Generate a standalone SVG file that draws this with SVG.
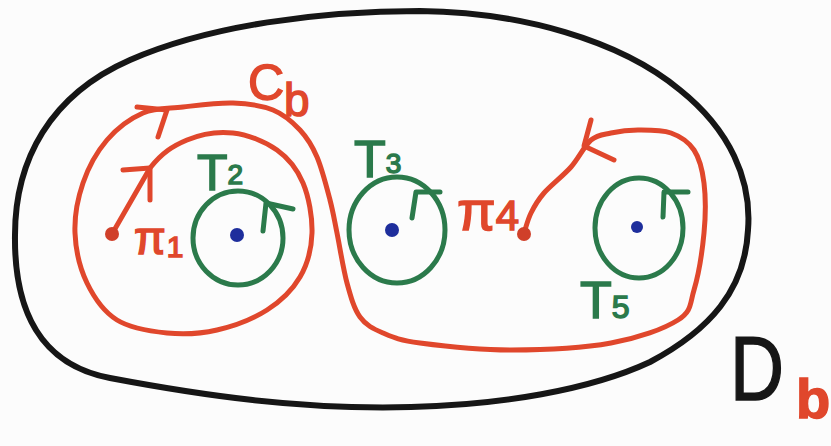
<svg xmlns="http://www.w3.org/2000/svg" width="831" height="446" viewBox="0 0 831 446">
<style>
.red{fill:none;stroke:#e0472c;stroke-width:5;stroke-linecap:round;stroke-linejoin:round}
.grn{fill:none;stroke:#2b7a4b;stroke-width:5;stroke-linecap:round;stroke-linejoin:round}
.blk{fill:none;stroke:#161616;stroke-width:6;stroke-linecap:round;stroke-linejoin:round}
.dot{fill:#1e2e9c}
.rdot{fill:#d0402a}
.tr{font-family:"Liberation Sans",Arial,sans-serif;fill:#e0472c;stroke:#e0472c;stroke-width:1.5}
.tg{font-family:"Liberation Sans",Arial,sans-serif;fill:#2b7a4b;stroke:#2b7a4b;stroke-width:1.5}
.tb{font-family:"Liberation Sans",Arial,sans-serif;fill:#161616;stroke:#161616;stroke-width:1.5}
</style>
<rect width="831" height="446" fill="#fcfcfc"/>
<g id="Db">
<path class="blk" d="M420,11 C520,12 620,40 680,90 C730,130 752,180 748,230 C745,290 710,330 650,362 C590,390 500,405 411,407 C300,410 200,395 110,378 C40,365 14,310 15,235 C15,160 50,95 130,60 C210,25 320,11 420,11 Z"/>
<text class="tb" x="730" y="400" font-size="90" textLength="54" lengthAdjust="spacingAndGlyphs">D</text>
<text class="tr" x="796" y="418" font-size="56" font-weight="bold">b</text>
</g>
<g id="connectors">
<g id="cb">
<path class="red" d="M112,234 L150,168 C162.5,152.3 173.2,145.8 187,140 S218,131.3 233,133 S265.3,141.7 277,150 S297.2,169.2 303,183 S312.5,217.3 312,233 S307.5,264.2 300,277 S280.8,301.2 267,310 S233.7,326.2 217,330 S183.7,334.7 167,333 S130.3,328.3 117,320 S94,297.5 87,283 S75.7,249.7 75,233 S77.7,198.5 83,183 S97,151.7 107,140 S130.3,118.5 143,113 S168,108.7 183,107 S218,102.5 233,103 S261.8,105.5 273,110 S292.7,122.2 300,130 S312,145.3 317,157 S326.7,187.3 330,200 S334.2,219.2 337,233 S343.2,269 347,283 S354,308.7 360,317 S373,328.7 383,333 S398.7,340.2 420,343 S479.2,350 511,350 S583.2,348 611,343 S664.2,328.8 678,320 S689.7,304.5 694,290 S702.3,250.8 704,233 S705.7,196.8 704,183 S699.5,158.3 694,150 S680.3,136.3 671,133 S648,130 638,130 S618.8,131.3 611,133 S597.7,134.3 591,140 S578.8,158.2 571,167 S550.7,185.3 544,193 S534.3,206.3 531,213 S526.3,226.3 524,233"/>
<polyline class="red" points="137,107 167,110 158,137"/>
<polyline class="red" points="123,170 150,168 150,200"/>
<polyline class="red" points="591,120 584,146 614,160"/>
<text class="tr" x="248" y="100" font-size="50">C<tspan dy="16" font-size="46">b</tspan></text>
</g>
</g>
<g id="pi1">
<circle class="rdot" cx="112" cy="234" r="7"/>
<text class="tr" x="134" y="254" font-size="46">π<tspan dx="1" dy="3" font-size="30">1</tspan></text>
</g>
<g id="pi4">
<circle class="rdot" cx="524" cy="234" r="7"/>
<text class="tr" x="457" y="230" font-size="56">π<tspan font-size="42">4</tspan></text>
</g>
<g id="T2">
<ellipse class="grn" cx="238" cy="238" rx="45" ry="47"/>
<polyline class="grn" points="263,231 266,203 293,209"/>
<circle class="dot" cx="237" cy="235" r="7"/>
<text class="tg" x="197" y="190" font-size="50">T<tspan dy="-6" font-size="28">2</tspan></text>
</g>
<g id="T3">
<ellipse class="grn" cx="397" cy="230" rx="48" ry="53"/>
<polyline class="grn" points="412,218 416,192 440,192"/>
<circle class="dot" cx="392" cy="230" r="7"/>
<text class="tg" x="354" y="177" font-size="52">T<tspan dy="-4" font-size="28">3</tspan></text>
</g>
<g id="T5">
<ellipse class="grn" cx="639" cy="228" rx="44" ry="50"/>
<polyline class="grn" points="663,217 664,192 688,192"/>
<circle class="dot" cx="637" cy="227" r="6"/>
<text class="tg" x="580" y="318" font-size="52">T<tspan font-size="32">5</tspan></text>
</g>
</svg>
